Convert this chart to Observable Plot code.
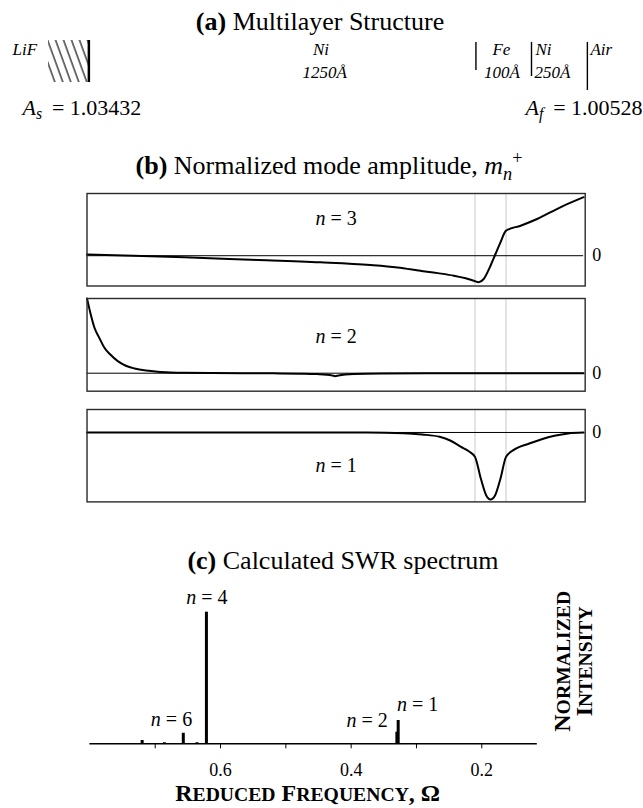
<!DOCTYPE html>
<html>
<head>
<meta charset="utf-8">
<script src="https://cdn.jsdelivr.net/npm/d3@7"></script>
<script src="https://cdn.jsdelivr.net/npm/@observablehq/plot@0.6"></script>
<style>
  html, body { margin: 0; padding: 0; background: #fff; }
  #page { position: relative; width: 643px; height: 808px; overflow: hidden; background: #fff;
          font-family: "Liberation Serif", "Times New Roman", Times, serif; color: #000; }
  .title { position: absolute; white-space: nowrap; line-height: 1; transform: translateX(-50%); }
  .title sub, .title sup { line-height: 0; font-size: 0.7em; }
</style>
</head>
<body>
<div id="page">
  <svg width="0" height="0" style="position:absolute;left:0;top:0">
    <defs>
      <pattern id="hatch" patternUnits="userSpaceOnUse" width="7.5" height="12" patternTransform="rotate(-20)">
        <line x1="1" y1="0" x2="1" y2="12" stroke="#000" stroke-width="1.1"></line>
      </pattern>
    </defs>
  </svg>
</div>
<script>
const FONT = '"Liberation Serif", "Times New Roman", Times, serif';
const W = 643;

// ================= DATA =================
// (a) multilayer structure (schematic; positions on the depth scale of panel b, in Å)
const layerNames      = ["LiF", "Ni", "Fe", "Ni", "Air"];
const layerThickness  = ["", "1250Å", "100Å", "250Å", ""];
const nameDepth       = [-240, 754, 1335, 1445, 1622];
const nameAnchor      = ["start", "middle", "middle", "start", "start"];
const thickDepth      = [null, 766, 1337, 1442, null];
const thickAnchor     = ["middle", "middle", "middle", "start", "middle"];
const interfaceDepth  = [1253, 1432, 1612];
const substrateSpan   = [-124, 6];
const ampText   = ["A_s = 1.03432", "A_f = 1.00528"];
const ampDepth  = [-208, 1790];
const ampAnchor = ["start", "end"];

// (b) normalized mode amplitude vs depth (Å)
const feLayerDepth = [1250, 1350];
const n3Depth = [0, 150, 314, 529, 752, 913, 1000, 1074, 1130, 1182, 1220, 1246, 1262, 1278, 1300, 1316, 1332, 1350, 1397, 1450, 1525, 1600];
const n3Amp   = [0.05, 0.0, -0.062, -0.154, -0.254, -0.358, -0.45, -0.577, -0.67, -0.769, -0.87, -0.962, -1.02, -0.896, -0.385, 0.065, 0.515, 0.962, 1.154, 1.412, 1.862, 2.25];
const n2Depth = [0, 10, 24, 40, 56, 75, 99, 125, 153, 190, 228, 270, 314, 400, 500, 600, 700, 740, 790, 800, 810, 860, 950, 1100, 1250, 1350, 1600];
const n2Amp   = [1.0, 0.82, 0.608, 0.47, 0.34, 0.25, 0.161, 0.10, 0.063, 0.035, 0.019, 0.01, 0.005, 0.002, 0, -0.002, -0.006, -0.012, -0.03, -0.04, -0.03, -0.01, -0.003, 0, 0, 0, 0];
const n1Depth = [0, 500, 900, 1020, 1080, 1136, 1170, 1205, 1230, 1250, 1269, 1286, 1300, 1315, 1332, 1350, 1375, 1425, 1465, 1506, 1550, 1600];
const n1Amp   = [0, 0, -0.002, -0.01, -0.03, -0.065, -0.12, -0.215, -0.28, -0.364, -0.69, -0.936, -1.0, -0.936, -0.69, -0.364, -0.26, -0.164, -0.1, -0.05, -0.015, -0.002];
const modeLabels = ["n = 3", "n = 2", "n = 1"];

// (c) calculated SWR spectrum
const specOmega     = [0.720, 0.686, 0.657, 0.636, 0.6216, 0.330, 0.328];
const specIntensity = [0.025, 0.008, 0.080, 0.008, 1.000, 0.088, 0.177];
const specLabel     = ["", "", "n = 6", "", "n = 4", "n = 2", "n = 1"];
const omegaTicks      = [0.7, 0.6, 0.5, 0.4, 0.3, 0.2];
const omegaTickLabels = ["", "0.6", "", "0.4", "", "0.2"];
const xTitle = "Reduced Frequency, Ω";
const yTitle = "Normalized\nIntensity";

const titleA = '<b>(a)</b> Multilayer Structure';
const titleB = '<b>(b)</b> Normalized mode amplitude, <i>m</i><sub><i>n</i></sub><sup>+</sup>';
const titleC = '<b>(c)</b> Calculated SWR spectrum';

// ================= LAYOUT (styles / positions) =================
const BX0 = 86.5, BX1 = 584.7;
const depthDomain = [0, 1605];
const baseStyle = {fontFamily: FONT, background: "transparent", overflow: "visible"};

// ================= helpers =================
const page = document.getElementById("page");
function put(svg, top) {
  svg.style.position = "absolute"; svg.style.left = "0px"; svg.style.top = top + "px";
  page.appendChild(svg);
}
function addTitle(html, cx, baseline, size) {
  const d = document.createElement("div");
  d.className = "title";
  d.innerHTML = html;
  d.style.fontSize = size + "px";
  d.style.left = cx + "px";
  d.style.top = (baseline - 0.8375 * size) + "px";
  page.appendChild(d);
}
function tspan(parent, text, attrs = {}) {
  const ts = document.createElementNS("http://www.w3.org/2000/svg", "tspan");
  for (const [k, v] of Object.entries(attrs)) ts.setAttribute(k, v);
  ts.textContent = text;
  parent.appendChild(ts);
  return ts;
}
const isLower = c => c !== c.toUpperCase();
function smallCaps(el, ratio) {
  const t = el.textContent; el.textContent = "";
  let i = 0;
  while (i < t.length) {
    const low = isLower(t[i]);
    let j = i; while (j < t.length && isLower(t[j]) === low) j++;
    const s = t.slice(i, j);
    tspan(el, low ? s.toUpperCase() : s, low ? {"font-size": ratio + "em"} : {});
    i = j;
  }
}
function richText(svg, subSize) {
  d3.select(svg).selectAll("text").each(function () {
    const el = this;
    if (el.querySelector("tspan")) return;
    const t = el.textContent;
    let m;
    if ((m = t.match(/^n = (\d+)$/))) {
      el.textContent = "";
      tspan(el, "n", {"font-style": "italic"});
      tspan(el, " = " + m[1]);
    } else if ((m = t.match(/^A_(\w) = (.+)$/))) {
      el.textContent = "";
      tspan(el, "A", {"font-style": "italic"});
      tspan(el, m[1], {"font-style": "italic", "font-size": (subSize * 0.72) + "px", dy: subSize * 0.22});
      tspan(el, "\u2009 = " + m[2], {dy: -subSize * 0.22});
    }
  });
}

// ================= (a) =================
addTitle(titleA, 320, 31, 26);
const hatchTop = 40, hatchBottom = 82, ifaceTop = 42;
const interfaceBottom = [70, 76, 90];
const nameBaseline = 54, thickBaseline = 77, ampBaseline = 114;
const aPlot = Plot.plot({
  width: W, height: 125, marginLeft: BX0, marginRight: W - BX1, marginTop: 0, marginBottom: 0,
  style: baseStyle,
  x: {domain: depthDomain, axis: null},
  y: {domain: [0, 125], range: [0, 125], axis: null},
  marks: [
    Plot.rect([substrateSpan], {x1: d => d[0], x2: d => d[1], y1: hatchTop, y2: hatchBottom, fill: "url(#hatch)"}),
    Plot.ruleX([substrateSpan[1]], {y1: hatchTop, y2: hatchBottom, strokeWidth: 2.5, stroke: "#000"}),
    Plot.ruleX(interfaceDepth, {y1: ifaceTop, y2: (d, i) => interfaceBottom[i], strokeWidth: 1.4, stroke: "#000"}),
    ...layerNames.map((name, i) => Plot.text([name], {x: nameDepth[i], y: nameBaseline, textAnchor: nameAnchor[i], lineAnchor: "bottom", fontStyle: "italic", fontSize: 17})),
    ...layerThickness.map((t, i) => t ? Plot.text([t], {x: thickDepth[i], y: thickBaseline, textAnchor: thickAnchor[i], lineAnchor: "bottom", fontStyle: "italic", fontSize: 17}) : null),
    ...ampText.map((t, i) => Plot.text([t], {x: ampDepth[i], y: ampBaseline, textAnchor: ampAnchor[i], lineAnchor: "bottom", fontSize: 22}))
  ]
});
put(aPlot, 0);
richText(aPlot, 22);

// ================= (b) =================
addTitle(titleB, 329, 175, 26);
function modePanel(depth, amp, yDomain, boxTop, boxBottom, label, labelBaseline) {
  const pad = 2;
  const data = depth.map((d, i) => ({depth: d, amp: amp[i]}));
  const svg = Plot.plot({
    width: W, height: boxBottom - boxTop + 2 * pad,
    marginLeft: BX0, marginRight: W - BX1, marginTop: pad, marginBottom: pad,
    style: {...baseStyle, fontSize: "18px"},
    x: {domain: depthDomain, axis: null},
    y: {domain: yDomain, axis: "right", ticks: [0], tickSize: 0, tickPadding: 7, tickFormat: () => "0", label: null},
    marks: [
      Plot.ruleX(feLayerDepth, {stroke: "#c9c9c9", strokeWidth: 1}),
      Plot.ruleY([0], {x1: depth[0], x2: depth[depth.length - 1], stroke: "#000", strokeWidth: 1}),
      Plot.line(data, {x: "depth", y: "amp", stroke: "#000", strokeWidth: 2, curve: "monotone-x"}),
      Plot.frame({stroke: "#2a2a2a", strokeWidth: 1.4}),
      Plot.text([label], {frameAnchor: "top", textAnchor: "middle", lineAnchor: "bottom", dy: labelBaseline - boxTop, fontSize: 20})
    ]
  });
  put(svg, boxTop - pad);
  richText(svg, 20);
  return svg;
}
modePanel(n3Depth, n3Amp, [-1.165, 2.392], 192.5, 285, modeLabels[0], 224);
modePanel(n2Depth, n2Amp, [-0.241, 1.0], 298, 390.7, modeLabels[1], 343);
modePanel(n1Depth, n1Amp, [-1.036, 0.343], 409.3, 501.7, modeLabels[2], 472);

// ================= (c) =================
addTitle(titleC, 343, 570, 26);
const spec = specOmega.map((o, i) => ({omega: o, intensity: specIntensity[i], label: specLabel[i]}));
const labelStyle = {
  "n = 6": {textAnchor: "middle", dx: -11.8, dy: -6.8},
  "n = 4": {textAnchor: "middle", dx: 0.5, dy: -8.4},
  "n = 2": {textAnchor: "end", dx: -9, dy: -5.7},
  "n = 1": {textAnchor: "start", dx: -1.2, dy: -9.3}
};
const cTop = 590, cHeight = 218;
const axisY = 743.3, barTopY = 611.7;
const cPlot = Plot.plot({
  width: W, height: cHeight,
  marginLeft: 89.4, marginRight: W - 536.8, marginTop: barTopY - cTop, marginBottom: cTop + cHeight - axisY,
  style: {...baseStyle, fontSize: "18px"},
  x: {domain: [0.8, 0.115], ticks: omegaTicks, tickFormat: d => omegaTickLabels[omegaTicks.indexOf(d)], tickSize: 5, tickPadding: 14, label: null},
  y: {domain: [0, 1], axis: null},
  marks: [
    Plot.ruleY([0], {stroke: "#000", strokeWidth: 1.5}),
    Plot.ruleX(spec, {x: "omega", y1: 0, y2: "intensity", stroke: "#000", strokeWidth: 3}),
    ...spec.filter(d => d.label).map(d => Plot.text([d], {
      x: "omega", y: "intensity", text: "label", lineAnchor: "bottom", fontSize: 20, ...labelStyle[d.label]
    })),
    Plot.text([xTitle], {frameAnchor: "bottom", textAnchor: "middle", lineAnchor: "bottom", dx: -6, dy: 800 - axisY, fontSize: 24, fontWeight: "bold"}),
    Plot.text([yTitle], {frameAnchor: "right", textAnchor: "middle", rotate: -90, lineAnchor: "middle", lineHeight: 0.917, dx: 36.7, dy: -16.7, fontSize: 24, fontWeight: "bold"})
  ]
});
put(cPlot, cTop);
richText(cPlot, 20);
d3.select(cPlot).selectAll("text").each(function () {
  const t = this.textContent;
  if (t === xTitle) smallCaps(this, 0.82);
  else if (this.querySelector("tspan") && (t === yTitle.replace("\n", ""))) {
    d3.select(this).selectAll("tspan").each(function () { smallCaps(this, 0.82); });
  }
});
</script>
</body>
</html>
